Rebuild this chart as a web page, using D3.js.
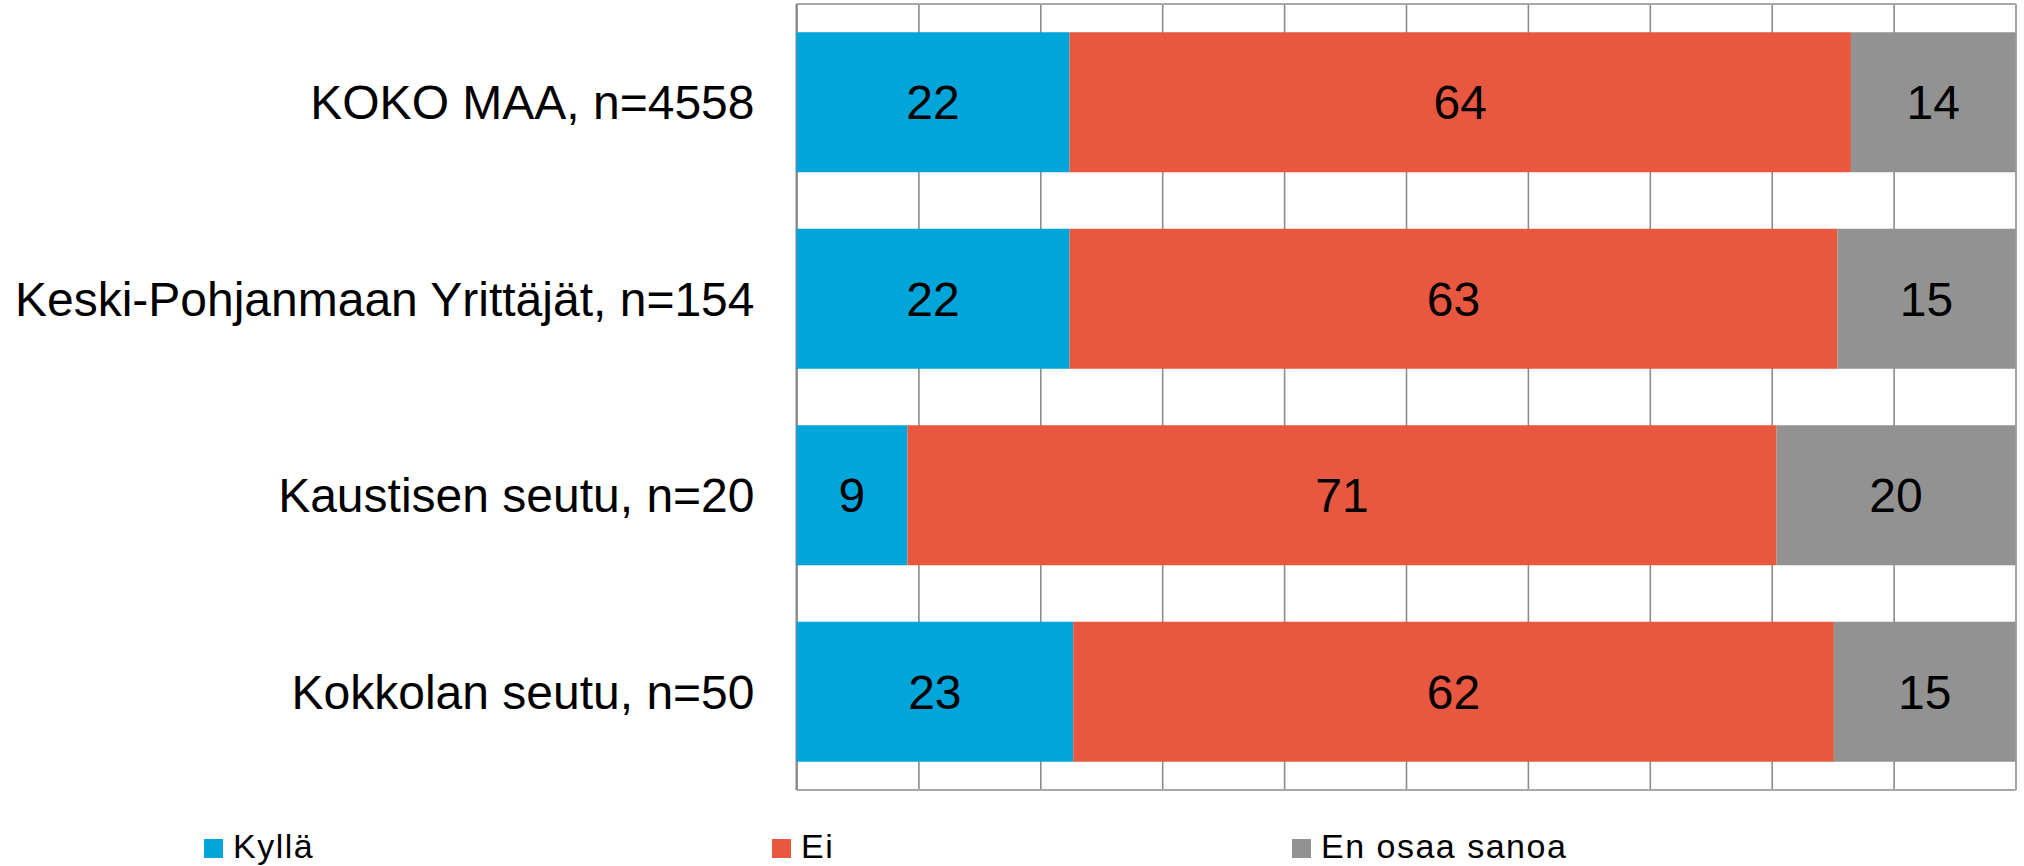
<!DOCTYPE html>
<html>
<head>
<meta charset="utf-8">
<script src="https://cdn.jsdelivr.net/npm/d3@7"></script>
<style>
  html, body { margin: 0; padding: 0; background: #fff; }
  svg { display: block; }
  text { font-family: "Liberation Sans", Arial, Helvetica, sans-serif; fill: #000; }
</style>
</head>
<body>
<svg id="chart" width="2024" height="866"></svg>
<script>
// ---- data ----
const categories = ["KOKO MAA, n=4558", "Keski-Pohjanmaan Yrittäjät, n=154", "Kaustisen seutu, n=20", "Kokkolan seutu, n=50"];
const seriesNames = ["Kyllä", "Ei", "En osaa sanoa"];
const kylla = [22.4, 22.4, 9.1, 22.7];
const ei = [64.1, 63.0, 71.3, 62.4];
const enOsaa = [13.5, 14.6, 19.6, 14.9];
const valueLabels = [[22, 64, 14], [22, 63, 15], [9, 71, 20], [23, 62, 15]];
const colors = ["#02a5da", "#e8573f", "#929292"];
const xTicks = [0, 10, 20, 30, 40, 50, 60, 70, 80, 90, 100];

// ---- layout ----
const svg = d3.select("#chart");
const plotLeft = 796.5, plotRight = 2015.5, plotTop = 4, plotBottom = 790;

const x = d3.scaleLinear().domain([0, 100]).range([plotLeft, plotRight]);
const p = 0.2875;
const y = d3.scaleBand().domain(categories).range([plotTop, plotBottom]).paddingInner(p).paddingOuter(p / 2);

const rows = categories.map((c, i) => ({ cat: c, "Kyllä": kylla[i], "Ei": ei[i], "En osaa sanoa": enOsaa[i], idx: i }));
const stacked = d3.stack().keys(seriesNames)(rows);

// gridlines
const grid = svg.append("g")
  .attr("transform", `translate(0,${plotBottom})`)
  .call(d3.axisBottom(x).tickValues(xTicks).tickSize(-(plotBottom - plotTop)).tickFormat(""));
grid.select(".domain").remove();
grid.selectAll(".tick line").attr("stroke", "#8c8c8c").attr("stroke-width", 1.6);

// plot border
svg.append("line").attr("x1", plotLeft).attr("x2", plotRight).attr("y1", plotTop).attr("y2", plotTop)
  .attr("stroke", "#a8a8a8").attr("stroke-width", 2);
svg.append("line").attr("x1", plotLeft).attr("x2", plotRight).attr("y1", plotBottom).attr("y2", plotBottom)
  .attr("stroke", "#a8a8a8").attr("stroke-width", 2);
svg.append("line").attr("x1", plotLeft).attr("x2", plotLeft).attr("y1", plotTop).attr("y2", plotBottom)
  .attr("stroke", "#888").attr("stroke-width", 2);

// bars
const layers = svg.append("g").selectAll("g").data(stacked).join("g")
  .attr("fill", (d, i) => colors[i]);
layers.selectAll("rect").data(d => d).join("rect")
  .attr("x", d => x(d[0]))
  .attr("width", d => x(d[1]) - x(d[0]))
  .attr("y", d => y(d.data.cat))
  .attr("height", y.bandwidth());

// value labels
stacked.forEach((layer, si) => {
  svg.append("g").selectAll("text").data(layer).join("text")
    .attr("x", d => (x(d[0]) + x(d[1])) / 2)
    .attr("y", d => y(d.data.cat) + y.bandwidth() / 2 + 17)
    .attr("text-anchor", "middle")
    .attr("font-size", 48)
    .text(d => valueLabels[d.data.idx][si]);
});

// category labels
const yAxis = svg.append("g")
  .attr("transform", `translate(${plotLeft},0)`)
  .call(d3.axisLeft(y).tickSize(0).tickPadding(42));
yAxis.select(".domain").remove();
yAxis.selectAll(".tick text")
  .attr("font-size", 48)
  .attr("dy", null)
  .attr("y", 17)
  .style("font-family", "'Liberation Sans', Arial, sans-serif")
  .attr("fill", "#000");

// legend
const legendX = [204, 772, 1292];
const legend = svg.append("g");
seriesNames.forEach((s, i) => {
  legend.append("rect").attr("x", legendX[i]).attr("y", 839).attr("width", 19).attr("height", 19)
    .attr("fill", colors[i]);
  legend.append("text").attr("x", legendX[i] + 29).attr("y", 858)
    .attr("font-size", 34).attr("letter-spacing", 1.5).text(s);
});
</script>
</body>
</html>
